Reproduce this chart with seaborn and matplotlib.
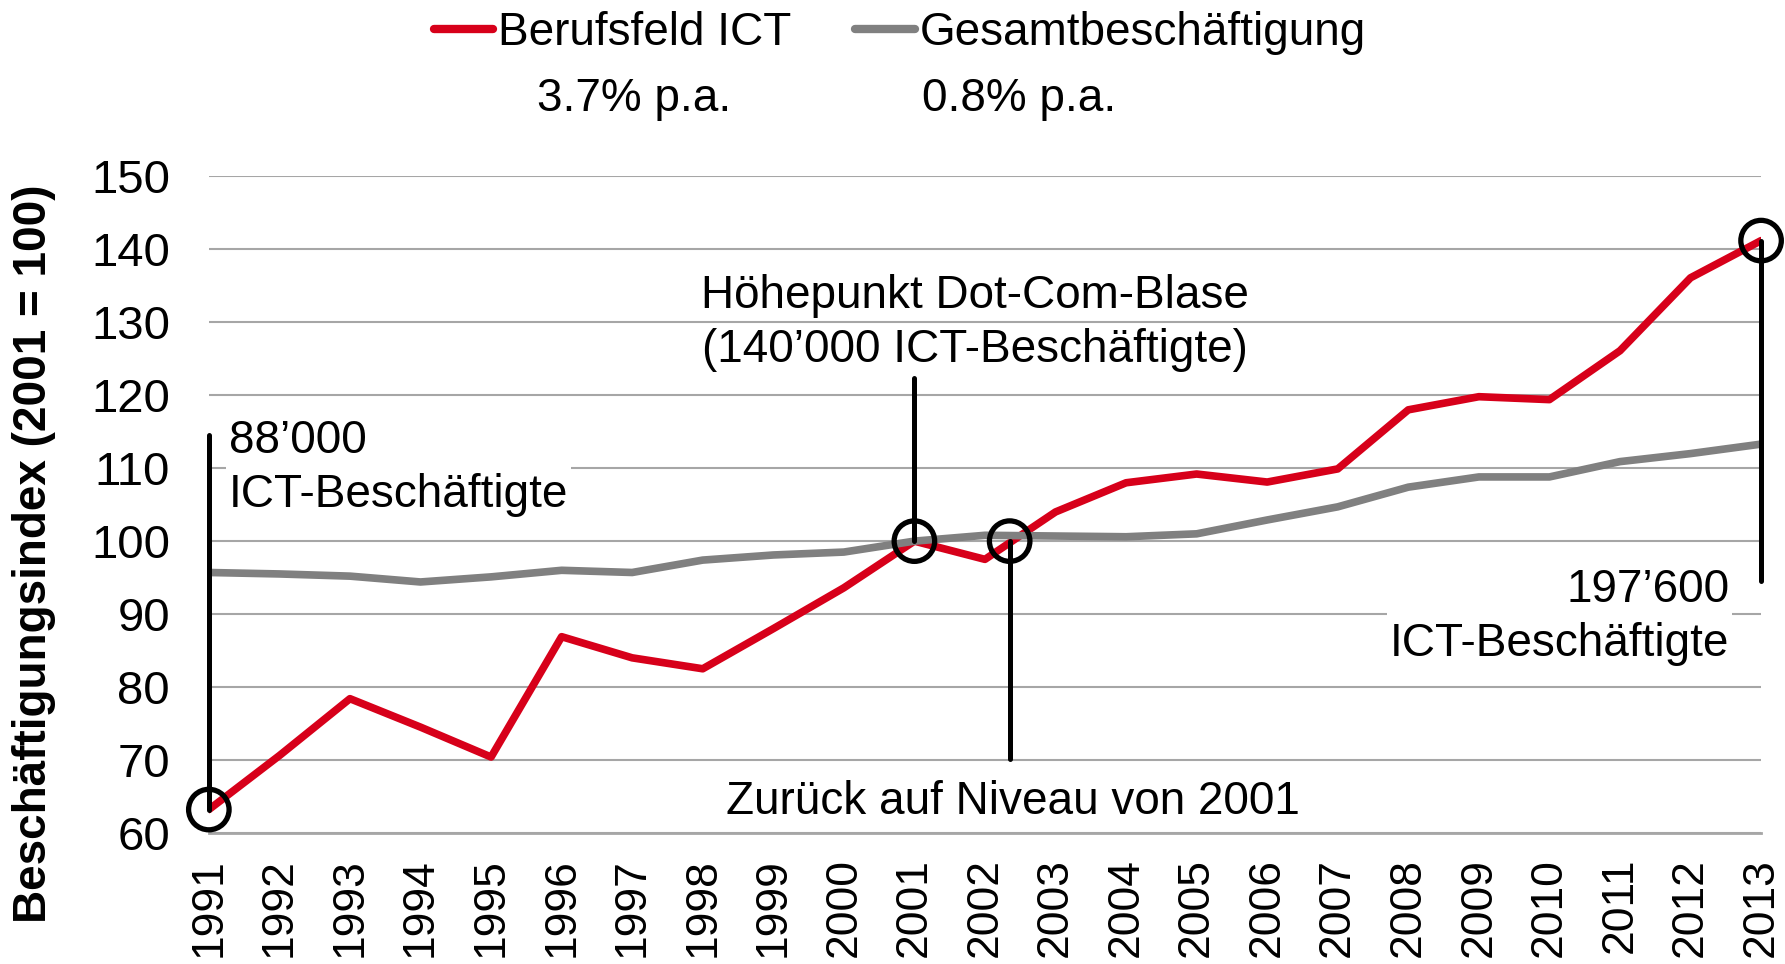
import seaborn as sns
import matplotlib.pyplot as plt
import pandas as pd

# Daten
jahre = list(range(1991, 2014))
ict = [63.2, 70.6, 78.4, 74.5, 70.4, 86.9, 84.0, 82.5, 88.0, 93.6, 100.0, 97.5,
       104.0, 108.0, 109.2, 108.1, 109.9, 118.0, 119.8, 119.4, 126.1, 136.1, 141.2]
gesamt = [95.7, 95.5, 95.2, 94.4, 95.1, 96.0, 95.7, 97.4, 98.1, 98.5, 100.0, 100.8,
          100.7, 100.6, 101.0, 102.9, 104.7, 107.4, 108.8, 108.8, 110.9, 112.0, 113.3]
reihen = ['Berufsfeld ICT', 'Gesamtbeschäftigung']
wachstum = ['3.7% p.a.', '0.8% p.a.']
farben = ['#d7001a', '#808080']

df = pd.DataFrame({
    'Jahr': jahre * 2,
    'Index': ict + gesamt,
    'Reihe': [reihen[0]] * len(jahre) + [reihen[1]] * len(jahre),
})

sns.set_style('white')
plt.rcParams['font.family'] = ['Liberation Sans', 'DejaVu Sans']
plt.rcParams['text.color'] = 'black'

fig = plt.figure(figsize=(17.85, 9.64), dpi=100)
ax = fig.add_axes([0.117, 0.136, 0.8696, 0.681])

sns.lineplot(data=df, x='Jahr', y='Index', hue='Reihe', palette=farben,
             linewidth=5.5, legend=False, ax=ax, zorder=4)

ax.set_xlim(1991, 2013)
ax.set_ylim(60, 150)
ax.set_yticks(range(60, 151, 10))
ax.set_xticks(jahre)
ax.set_xticklabels([str(j) for j in jahre], rotation=90)
ax.grid(axis='y', color='#a6a6a6', linewidth=1.5)
ax.set_axisbelow(True)
for s in ['left', 'right', 'top']:
    ax.spines[s].set_visible(False)
ax.spines['bottom'].set_color('#a6a6a6')
ax.spines['bottom'].set_linewidth(2)
ax.tick_params(axis='x', direction='out', length=12, width=1.2, color='#a6a6a6',
               labelcolor='black', labelsize=32, pad=6)
ax.tick_params(axis='y', length=0, labelsize=34, labelcolor='black', pad=28)
ax.set_xlabel('')
ax.set_ylabel('')
fig.text(0.019, 0.426, 'Beschäftigungsindex (2001 = 100)', fontsize=33,
         fontweight='bold', rotation=90, ha='center', va='center')

# Markierungen
ax.plot([1991, 1991], [63.2, 114.5], color='black', lw=3.6, zorder=5, clip_on=False)
ax.plot([2001, 2001], [100, 122.4], color='black', lw=3.6, zorder=5)
ax.plot([2002.35, 2002.35], [100, 70.1], color='black', lw=3.6, zorder=5)
ax.plot([2013, 2013], [141.2, 94.5], color='black', lw=3.6, zorder=5, clip_on=False)
kreise_x = [1991, 2001, 2002.35, 2013]
kreise_y = [63.2, 100, 100, 141.2]
ax.scatter(kreise_x, kreise_y, s=850, facecolors='none', edgecolors='black',
           linewidths=3.8, zorder=6, clip_on=False)

box = dict(facecolor='white', edgecolor='none', pad=2)
ax.text(1991.28, 110, '88’000\nICT-Beschäftigte', fontsize=33, ha='left', va='center',
        linespacing=1.3, bbox=box, zorder=3)
ax.text(2001.86, 129.9, 'Höhepunkt Dot-Com-Blase\n(140’000 ICT-Beschäftigte)',
        fontsize=33, ha='center', va='center', linespacing=1.3, zorder=3)
ax.text(2002.4, 64.3, 'Zurück auf Niveau von 2001', fontsize=33, ha='center',
        va='center', zorder=3)
ax.text(2012.55, 89.6, '197’600\nICT-Beschäftigte', fontsize=33, ha='right',
        va='center', linespacing=1.3, bbox=box, zorder=3)

# Legende oben
handles = [plt.Line2D([], [], color=c, lw=6, solid_capstyle='round') for c in farben]
fig.legend(handles, reihen, loc='center', bbox_to_anchor=(0.504, 0.966), ncol=2,
           frameon=False, fontsize=33, handlelength=1.3, handletextpad=0.1,
           columnspacing=1.4)
fig.text(0.355, 0.897, wachstum[0], fontsize=33, ha='center', va='center')
fig.text(0.571, 0.897, wachstum[1], fontsize=33, ha='center', va='center')

fig.savefig('out.png', dpi=100)
